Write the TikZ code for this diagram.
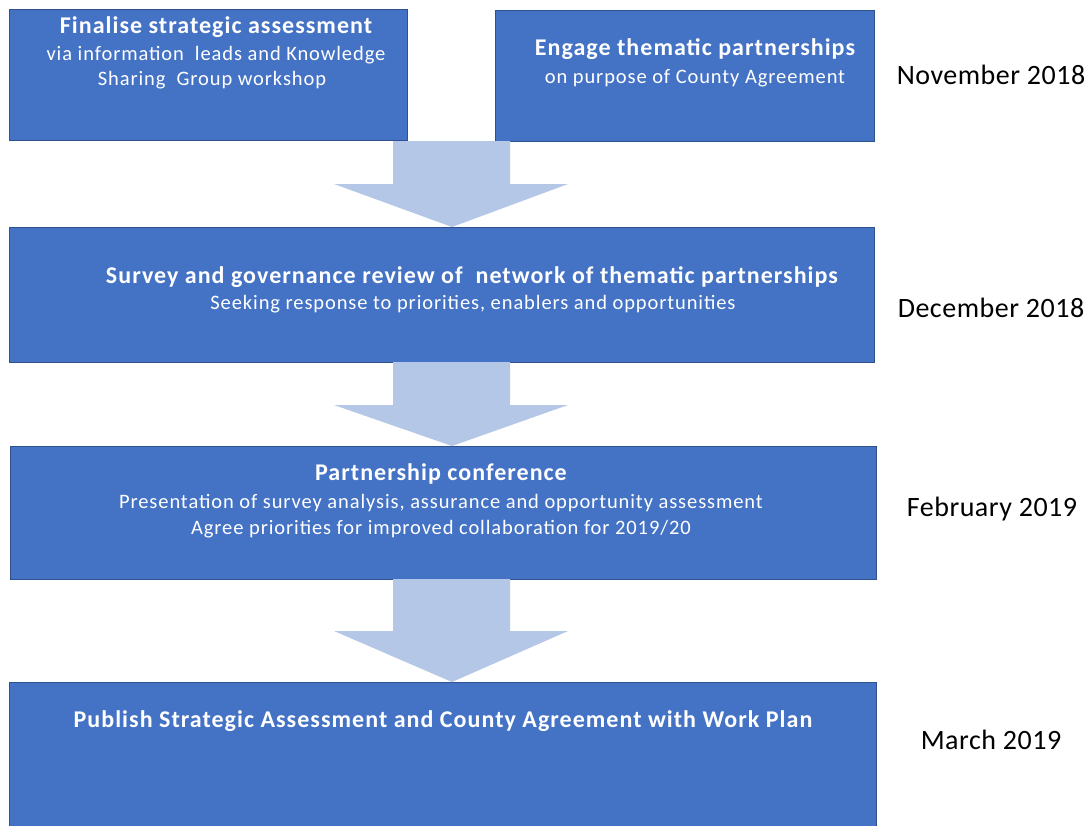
\documentclass[tikz,border=0pt]{standalone}
\usepackage{fontspec}
\setmainfont{Carlito}
\definecolor{boxfill}{HTML}{4472C4}
\definecolor{boxline}{HTML}{2F528F}
\definecolor{arrowc}{HTML}{B4C7E7}
\begin{document}
\begin{tikzpicture}[x=1pt,y=-1pt,
  box/.style={draw=boxline, fill=boxfill, line width=1.3pt, inner sep=0pt, anchor=north west},
  ttl/.style={text=white, font=\fontsize{24}{28}\selectfont\bfseries\addfontfeature{LetterSpace=4.3}, anchor=base, inner sep=0pt},
  bod/.style={text=white, font=\fontsize{20.5}{24}\selectfont\addfontfeature{LetterSpace=4.4}, anchor=base, inner sep=0pt},
  date/.style={text=black, font=\fontsize{28}{32}\selectfont\addfontfeature{LetterSpace=1.8}, anchor=base, inner sep=0pt},
  blockarrow/.style={fill=arrowc}]
\useasboundingbox (0,0) rectangle (1092,825);
% boxes
\node[box, minimum width=398pt, minimum height=131pt] (b1) at (9,9) {};
\node[box, minimum width=379pt, minimum height=131pt] (b2) at (495,10) {};
\node[box, minimum width=865pt, minimum height=135pt] (b3) at (9,227) {};
\node[box, minimum width=866pt, minimum height=133pt] (b4) at (10,446) {};
\node[box, minimum width=867pt, minimum height=160pt] (b5) at (9,682) {};
% block arrows
\fill[blockarrow] (393,141) -- (510,141) -- (510,184) -- (568,184) -- (452,227) -- (334,184) -- (393,184) -- cycle;
\fill[blockarrow] (393,362) -- (510,362) -- (510,405) -- (568,405) -- (452,446) -- (334,405) -- (393,405) -- cycle;
\fill[blockarrow] (393,579) -- (510,579) -- (510,631) -- (568,631) -- (452,682) -- (334,631) -- (393,631) -- cycle;
% box texts
\node[ttl] (t1a) at (216,33) {Finalise strategic assessment};
\node[bod] (t1b) at (216,60) {via information\ \ leads and Knowledge};
\node[bod] (t1c) at (212,85) {Sharing\ \ Group workshop};
\node[ttl] (t2a) at (695,55) {Engage thematic partnerships};
\node[bod] (t2b) at (695,83) {on purpose of County Agreement};
\node[ttl] (t3a) at (472,283) {Survey and governance review of\ \ network of thematic partnerships};
\node[bod] (t3b) at (473,309) {Seeking response to priorities, enablers and opportunities};
\node[ttl] (t4a) at (441,480) {Partnership conference};
\node[bod] (t4b) at (441,508) {Presentation of survey analysis, assurance and opportunity assessment};
\node[bod] (t4c) at (441,534) {Agree priorities for improved collaboration for 2019/20};
\node[ttl] (t5a) at (443,727) {Publish Strategic Assessment and County Agreement with Work Plan};
% dates
\node[date] (d1) at (991,84) {November 2018};
\node[date] (d2) at (991,317) {December 2018};
\node[date] (d3) at (992,516) {February 2019};
\node[date] (d4) at (991,749) {March 2019};
\end{tikzpicture}
\end{document}
